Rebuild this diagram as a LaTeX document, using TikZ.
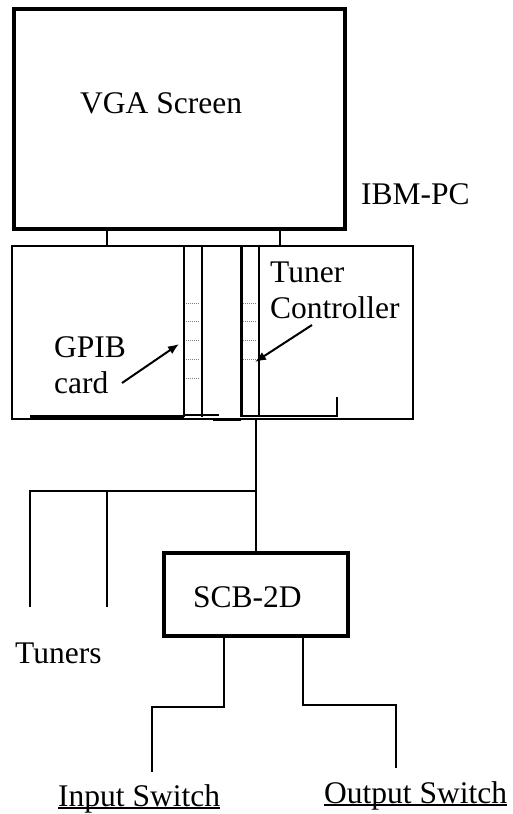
\documentclass[tikz,border=0pt]{standalone}
\usepackage{fontspec}
\setmainfont{Liberation Serif}
\usetikzlibrary{arrows.meta}
\tikzset{
  thickbox/.style={draw, line width=4pt, inner sep=0pt},
  thinbox/.style={draw, line width=2pt, inner sep=0pt},
  lbl/.style={inner sep=0pt, anchor=base west},
  wire/.style={line width=2pt},
  slotdots/.style={line width=0.8pt, gray, dash pattern=on 1pt off 1pt}
}
\begin{document}
\begin{tikzpicture}[x=1pt, y=-1pt, font=\fontsize{31.5}{36}\selectfont, line join=miter, >={Latex[length=11pt,width=9pt]}]
\useasboundingbox (0,0) rectangle (513,814);
\node[thickbox, minimum width=331pt, minimum height=220pt] (vga) at (179.5,119) {};
\node[lbl] (vgatxt) at (80,113) {VGA Screen};
\node[lbl] (ibm) at (361,204) {IBM-PC};
\node[thinbox, minimum width=401pt, minimum height=173pt] (pc) at (212.5,332.5) {};
\coordinate (sl) at (107,0);
\coordinate (sr) at (280,0);
\draw[wire] (vga.south -| sl) -- (pc.north -| sl);
\draw[wire] (vga.south -| sr) -- (pc.north -| sr);
\foreach \x in {184,202,259}
  \draw[wire] (\x,246) -- (\x,417);
\draw[line width=3pt] (241,246) -- (241,417);
\foreach \y in {303,321,340,359,378}
  \draw[slotdots] (186,\y) -- (200,\y);
\foreach \y in {303,321,340,359}
  \draw[slotdots] (243,\y) -- (257,\y);
\draw[line width=3pt] (30,416) -- (184,416);
\draw[wire] (184,414.5) -- (219,414.5);
\draw[line width=3pt] (213,419) -- (241,419);
\draw[wire] (241,416) -- (337,416) -- (337,397);
\node[lbl] (gpib) at (54,357) {GPIB};
\node[lbl] (card) at (54,393) {card};
\node[lbl] (tuner) at (270,282) {Tuner};
\node[lbl] (ctrl) at (270,318) {Controller};
\coordinate (ga) at (122,383);
\coordinate (gb) at (179,344);
\coordinate (ta) at (312,325);
\coordinate (tb) at (255,362);
\draw[wire, ->] (ga) -- (gb);
\draw[wire, ->] (ta) -- (tb);
\node[thickbox, minimum width=184pt, minimum height=83pt] (scb) at (256,594.5) {};
\node[lbl] (scbtxt) at (193,607) {SCB-2D};
\coordinate (bus) at (256,491);
\coordinate (t1) at (30,491);
\coordinate (t2) at (107,491);
\draw[wire] (pc.south -| scb.north) -- (scb.north);
\draw[wire] (bus) -- (t1) -- ++(0,116);
\draw[wire] (t2) -- ++(0,116);
\node[lbl] (tuners) at (15,663) {Tuners};
\coordinate (il) at (224,0);
\coordinate (ol) at (303,0);
\draw[wire] (scb.south -| il) -- (224,707) -- (152,707) -- (152,772);
\draw[wire] (scb.south -| ol) -- (303,705) -- (396,705) -- (396,768);
\node[lbl] (inp) at (58,806) {Input Switch};
\node[lbl] (outp) at (324,803) {Output Switch};
\draw[line width=1.5pt] ([yshift=-2pt]inp.base west) -- ([yshift=-2pt]inp.base east);
\draw[line width=1.5pt] ([yshift=-2pt]outp.base west) -- ([yshift=-2pt]outp.base east);
\end{tikzpicture}
\end{document}
